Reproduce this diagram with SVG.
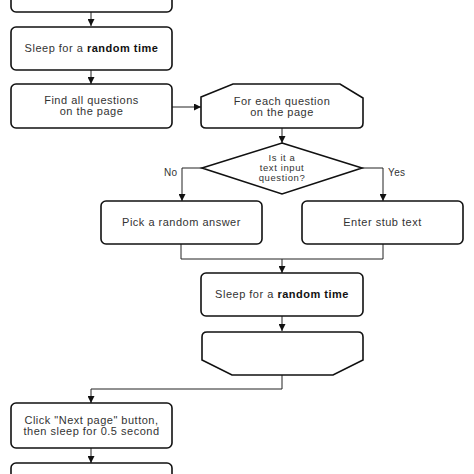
<svg xmlns="http://www.w3.org/2000/svg" width="474" height="474" viewBox="0 0 474 474">
<defs>
<marker id="ah" viewBox="0 0 10 10" refX="10" refY="5" markerWidth="7" markerHeight="7" markerUnits="userSpaceOnUse" orient="auto">
<path d="M0,0 L10,5 L0,10 z" fill="#111"/>
</marker>
<style>
.n{fill:#fff;stroke:#111;stroke-width:1.6}
.t{font-family:"Liberation Sans",Arial,sans-serif;font-size:11px;letter-spacing:0.5px;fill:#333;text-anchor:middle}
.d{font-size:9.5px;letter-spacing:0.6px}
.b{font-weight:bold;fill:#111}
.c{fill:none;stroke:#222;stroke-width:1}
.l{font-family:"Liberation Sans",Arial,sans-serif;font-size:10px;letter-spacing:0.4px;fill:#333}
</style>
</defs>
<rect width="474" height="474" fill="#fff"/>
<g id="connectors">
<path class="c" d="M91,12 V26" marker-end="url(#ah)"/>
<path class="c" d="M91,70 V84" marker-end="url(#ah)"/>
<path class="c" d="M172,107 H201" marker-end="url(#ah)"/>
<path class="c" d="M282,128 V143" marker-end="url(#ah)"/>
<path class="c" d="M202,168 H182 V201" marker-end="url(#ah)"/>
<path class="c" d="M362,168 H383 V201" marker-end="url(#ah)"/>
<path class="c" d="M181,244 V259 H383 V244"/>
<path class="c" d="M282,259 V273" marker-end="url(#ah)"/>
<path class="c" d="M282,316 V331" marker-end="url(#ah)"/>
<path class="c" d="M282,375 V389 H91 V403" marker-end="url(#ah)"/>
<path class="c" d="M91,448 V463" marker-end="url(#ah)"/>
<text class="l" x="164" y="176">No</text>
<text class="l" x="388" y="176">Yes</text>
</g>
<g id="top-box"><rect class="n" x="11" y="-30" width="161" height="42" rx="5"/></g>
<g id="sleep1"><rect class="n" x="11" y="27" width="161" height="43" rx="5"/>
<text class="t" x="91.5" y="52">Sleep for a <tspan class="b">random time</tspan></text></g>
<g id="find"><rect class="n" x="11" y="84" width="161" height="44" rx="5"/>
<text class="t" x="91.5" y="104">Find all questions</text><text class="t" x="91.5" y="115">on the page</text></g>
<g id="loop"><path class="n" d="M201,97 L233,84 H340 L363,98 V123 Q363,128 358,128 H206 Q201,128 201,123 Z"/>
<text class="t" x="282" y="105">For each question</text><text class="t" x="282" y="116">on the page</text></g>
<g id="decision"><path class="n" d="M282,143 L362,168 L282,194 L202,168 Z"/>
<text class="t d" x="282" y="161">Is it a</text><text class="t d" x="282" y="171">text input</text><text class="t d" x="282" y="181">question?</text></g>
<g id="pick"><rect class="n" x="101" y="201" width="161" height="43" rx="5"/>
<text class="t" x="181.5" y="226">Pick a random answer</text></g>
<g id="stub"><rect class="n" x="302" y="201" width="161" height="43" rx="5"/>
<text class="t" x="382.5" y="226">Enter stub text</text></g>
<g id="sleep2"><rect class="n" x="201" y="273" width="162" height="43" rx="5"/>
<text class="t" x="282" y="298">Sleep for a <tspan class="b">random time</tspan></text></g>
<g id="loop-end"><path class="n" d="M202,337 Q202,332 207,332 H358 Q363,332 363,337 V360 L333,375 H232 L202,360 Z"/></g>
<g id="click"><rect class="n" x="11" y="403" width="161" height="45" rx="5"/>
<text class="t" x="91.5" y="424">Click "Next page" button,</text><text class="t" x="91.5" y="435">then sleep for 0.5 second</text></g>
<g id="bottom-box"><rect class="n" x="11" y="463" width="161" height="45" rx="5"/></g>
</svg>
